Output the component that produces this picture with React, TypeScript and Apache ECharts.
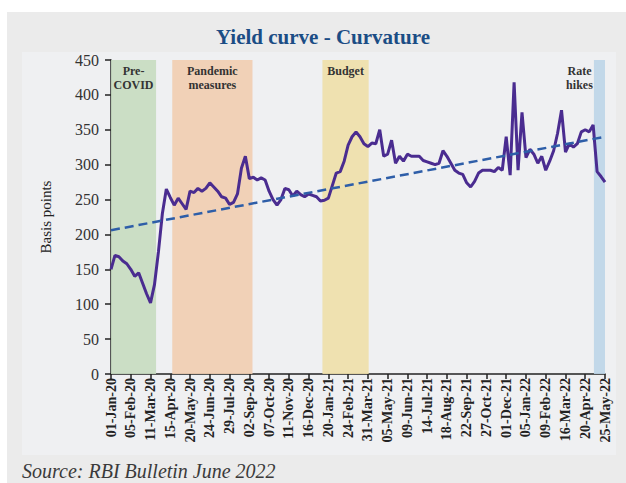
import React, { useEffect, useRef } from "react";
import * as echarts from "echarts";

// Weekly observations, starting 01-Jan-20 (one value per week)
const curvature: number[] = [
  150, 170, 168, 162, 158, 150, 140, 145, 130, 115,
  102, 128, 175, 230, 265, 253, 242, 252, 244, 236,
  262, 260, 266, 262, 266, 274, 268, 262, 254, 252,
  243, 246, 258, 295, 312, 280, 282, 278, 281, 278,
  262, 250, 242, 250, 266, 264, 255, 262, 257, 254,
  258, 256, 254, 248, 249, 252, 270, 288, 290, 305,
  328, 340, 347, 340, 330, 326, 331, 330, 350, 312,
  315, 335, 302, 312, 305, 315, 312, 312, 312, 306,
  304, 302, 300, 302, 320, 312, 302, 292, 288, 286,
  274, 268, 276, 288, 292, 292, 292, 290, 296, 292,
  340, 285, 418, 292, 375, 310, 322, 315, 302, 312,
  292, 305, 320, 345, 378, 318, 330, 325, 330, 347,
  350, 347, 357, 290, 283, 275,
];

// Linear trend (start / end values)
const trendStart = 206;
const trendEnd = 340;

// X tick labels (every 5 weeks)
const tickLabels = [
  "01-Jan-20", "05-Feb-20", "11-Mar-20", "15-Apr-20", "20-May-20", "24-Jun-20",
  "29-Jul-20", "02-Sep-20", "07-Oct-20", "11-Nov-20", "16-Dec-20", "20-Jan-21",
  "24-Feb-21", "31-Mar-21", "05-May-21", "09-Jun-21", "14-Jul-21", "18-Aug-21",
  "22-Sep-21", "27-Oct-21", "01-Dec-21", "05-Jan-22", "09-Feb-22", "16-Mar-22",
  "20-Apr-22", "25-May-22",
];

// Event bands in weeks since start
const bandNames = ["Pre-\nCOVID", "Pandemic\nmeasures", "Budget", "Rate\nhikes"];
const bandStarts = [0, 15.5, 53.5, 122.2];
const bandEnds = [11.4, 35.8, 65.2, 125];
const bandColors = ["#c6dcc0", "#f1cdb0", "#eedfa8", "#bcd5e8"];

const SERIF = "'Liberation Serif', 'Times New Roman', serif";

export default function App() {
  const ref = useRef<HTMLDivElement>(null);

  useEffect(() => {
    if (!ref.current) return;
    const chart = echarts.init(ref.current, undefined, { renderer: "svg" });
    const lineData = curvature.map((v, i) => [i, v]);
    const lastIdx = curvature.length - 1;

    const markData = bandNames.map((name, i) => [
      {
        xAxis: bandStarts[i],
        name,
        itemStyle: { color: bandColors[i], opacity: 0.9 },
        label: i === 3 ? { offset: [-20, 0] } : {},
      },
      { xAxis: bandEnds[i] },
    ]);

    chart.setOption({
      animation: false,
      backgroundColor: "#ffffff",
      graphic: [
        { type: "rect", z: -100, shape: { x: 7, y: 12, width: 619, height: 471 }, style: { fill: "#ebebeb" }, silent: true },
        { type: "rect", z: -99, shape: { x: 22, y: 52, width: 594, height: 403 }, style: { fill: "#eff0f2" }, silent: true },
        {
          type: "text",
          x: 323,
          y: 37,
          style: {
            text: "Yield curve - Curvature",
            textAlign: "center",
            textVerticalAlign: "middle",
            fontFamily: SERIF,
            fontWeight: "bold",
            fontSize: 21,
            fill: "#1b4d85",
          },
        },
        {
          type: "text",
          x: 22,
          y: 471,
          style: {
            text: "Source: RBI Bulletin June 2022",
            textAlign: "left",
            textVerticalAlign: "middle",
            fontFamily: SERIF,
            fontStyle: "italic",
            fontSize: 20,
            fill: "#3a3a3a",
          },
        },
      ],
      grid: { left: 111, right: 21, top: 60, bottom: 109, containLabel: false },
      xAxis: {
        type: "value",
        min: 0,
        max: lastIdx,
        interval: 5,
        splitLine: { show: false },
        axisLine: { show: true, onZero: false, lineStyle: { color: "#222", width: 1.5 } },
        axisTick: { show: true, length: 5, lineStyle: { color: "#222", width: 1.5 } },
        axisLabel: {
          rotate: 90,
          margin: 4,
          color: "#222",
          fontFamily: SERIF,
          fontWeight: "bold",
          fontSize: 14,
          formatter: (v: number) => tickLabels[Math.round(v / 5)] ?? "",
        },
      },
      yAxis: {
        type: "value",
        min: 0,
        max: 450,
        interval: 50,
        name: "Basis points",
        nameLocation: "middle",
        nameRotate: 90,
        nameGap: 58,
        nameTextStyle: { fontFamily: SERIF, fontSize: 15, color: "#222" },
        splitLine: { show: false },
        axisLine: { show: true, onZero: false, lineStyle: { color: "#222", width: 1.5 } },
        axisTick: { show: true, length: 6, lineStyle: { color: "#222", width: 1.5 } },
        axisLabel: { margin: 12, color: "#333", fontFamily: SERIF, fontSize: 16 },
      },
      series: [
        {
          type: "line",
          data: lineData,
          showSymbol: false,
          symbol: "none",
          lineStyle: { color: "#4a2c90", width: 3 },
          z: 3,
          markArea: {
            silent: true,
            label: {
              show: true,
              position: "insideTop",
              distance: 4,
              color: "#333",
              fontFamily: SERIF,
              fontWeight: "bold",
              fontSize: 12,
              lineHeight: 14,
            },
            data: markData,
          },
        },
        {
          type: "line",
          data: [
            [0, trendStart],
            [lastIdx, trendEnd],
          ],
          showSymbol: false,
          symbol: "none",
          lineStyle: { color: "#2e5ea8", width: 2.5, type: [9, 5] },
          z: 4,
        },
      ],
    });

    return () => chart.dispose();
  }, []);

  return (
    <div
      ref={ref}
      style={{ position: "fixed", left: 0, top: 0, width: 626, height: 483 }}
    />
  );
}
